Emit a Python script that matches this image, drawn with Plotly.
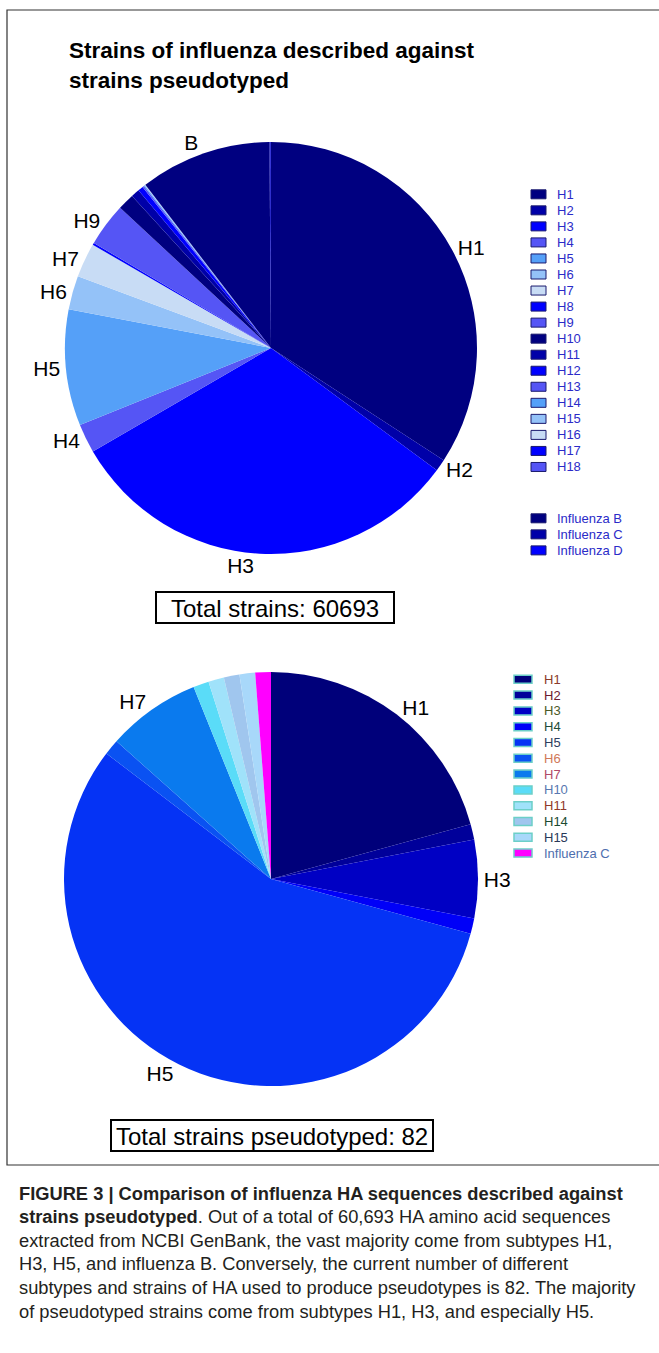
import plotly.graph_objects as go

W, H = 659, 1353

# ---------------- data: top pie (all described strains) ----------------
top_labels = ["H1", "H2", "H3", "H4", "H5", "H6", "H7", "H8", "H9", "H10", "H11", "H12",
              "H13", "H14", "H15", "H16", "H17", "H18", "Influenza B", "Influenza C", "Influenza D"]
top_values = [20740, 570, 19130, 1380, 5530, 1600, 1640, 100, 2060, 790, 400, 250,
              80, 40, 20, 20, 3, 5, 6260, 60, 15]
top_slice_text = ["H1", "H2", "H3", "H4", "H5", "H6", "H7", "", "H9", "", "", "",
                  "", "", "", "", "", "", "B", "", ""]
top_colors = ["#000080", "#0000A8", "#0000FF", "#5555F5", "#55A0F8", "#94C2F8", "#C8DCF5",
              "#0000FF", "#5555F5", "#000080", "#0000A8", "#0000FF", "#5555F5", "#55A0F8",
              "#94C2F8", "#C8DCF5", "#0000FF", "#5555F5", "#000080", "#0000A8", "#0000FF"]
top_total_text = "Total strains: 60693"

# ---------------- data: bottom pie (pseudotyped strains) ----------------
bot_labels = ["H1", "H2", "H3", "H4", "H5", "H6", "H7", "H10", "H11", "H14", "H15", "Influenza C"]
bot_values = [17, 1, 5, 1, 46, 1, 6, 1, 1, 1, 1, 1]
bot_slice_text = ["H1", "", "H3", "", "H5", "", "H7", "", "", "", "", ""]
bot_colors = ["#00007A", "#00009A", "#0000C4", "#0000F8", "#0533F5", "#0A52F2", "#0A7AEE",
              "#5ADCF8", "#A0E2FA", "#A0C6EE", "#A8D8FA", "#FF00FF"]
bot_legend_text_colors = ["#8B3A2A", "#6B1A30", "#4B5A28", "#1E4B3A", "#2E3E5E", "#D07858",
                          "#B04868", "#5878B0", "#903828", "#1C4A32", "#283858", "#4E6EAE"]
bot_total_text = "Total strains pseudotyped: 82"

title_lines = ["Strains of influenza described against", "strains pseudotyped"]
caption_lines = [
    "<b>FIGURE 3 | Comparison of influenza HA sequences described against</b>",
    "<b>strains pseudotyped</b>. Out of a total of 60,693 HA amino acid sequences",
    "extracted from NCBI GenBank, the vast majority come from subtypes H1,",
    "H3, H5, and influenza B. Conversely, the current number of different",
    "subtypes and strains of HA used to produce pseudotypes is 82. The majority",
    "of pseudotyped strains come from subtypes H1, H3, and especially H5.",
]


def px(x):
    return x / W


def py(y):
    return 1 - y / H


LABEL_FONT = dict(family="Liberation Sans, Arial", size=21, color="black")

fig = go.Figure()

fig.add_trace(go.Pie(
    labels=top_labels, values=top_values, text=top_slice_text,
    textinfo="text", textposition="outside", outsidetextfont=LABEL_FONT,
    marker=dict(colors=top_colors, line=dict(width=0)),
    sort=False, direction="clockwise", rotation=0, showlegend=False,
    hoverinfo="label+value",
    domain=dict(x=[px(65), px(477)], y=[py(554), py(142)]),
))

fig.add_trace(go.Pie(
    labels=bot_labels, values=bot_values, text=bot_slice_text,
    textinfo="text", textposition="outside", outsidetextfont=LABEL_FONT,
    marker=dict(colors=bot_colors, line=dict(width=0)),
    sort=False, direction="clockwise", rotation=0, showlegend=False,
    hoverinfo="label+value",
    domain=dict(x=[px(64), px(478)], y=[py(1086), py(672)]),
))

shapes = []
annotations = []

# outer frame
shapes.append(dict(type="rect", xref="paper", yref="paper",
                   x0=px(7), x1=px(662), y0=py(1165), y1=py(10),
                   line=dict(color="#333333", width=1.2), fillcolor="rgba(0,0,0,0)"))

# title
for i, t in enumerate(title_lines):
    annotations.append(dict(text="<b>%s</b>" % t, x=px(67), y=py(50 + 31 * i), xref="paper", yref="paper",
                            xanchor="left", yanchor="middle", showarrow=False,
                            font=dict(family="Liberation Sans, Arial", size=22.5, color="black")))

# top legend
top_rows = list(range(18)) + [20.2, 21.2, 22.2]
for i, (lab, col) in enumerate(zip(top_labels, top_colors)):
    yc = 194.3 + top_rows[i] * 16.04
    shapes.append(dict(type="rect", xref="paper", yref="paper",
                       x0=px(531), x1=px(546), y0=py(yc + 4.5), y1=py(yc - 4.5),
                       fillcolor=col, line=dict(color="#1A1A6E", width=1)))
    annotations.append(dict(text=lab, x=px(555), y=py(yc), xref="paper", yref="paper",
                            xanchor="left", yanchor="middle", showarrow=False,
                            font=dict(family="Liberation Sans, Arial", size=13, color="#2B2BC8")))

# bottom legend
for i, (lab, col, tc) in enumerate(zip(bot_labels, bot_colors, bot_legend_text_colors)):
    yc = 679.3 + i * 15.8
    shapes.append(dict(type="rect", xref="paper", yref="paper",
                       x0=px(514), x1=px(532), y0=py(yc + 4), y1=py(yc - 4),
                       fillcolor=col, line=dict(color="#6CCFC8", width=1.5)))
    annotations.append(dict(text=lab, x=px(542), y=py(yc), xref="paper", yref="paper",
                            xanchor="left", yanchor="middle", showarrow=False,
                            font=dict(family="Liberation Sans, Arial", size=13, color=tc)))

# totals boxes
for txt, (bx0, bx1, by0, by1) in [(top_total_text, (156, 394, 592, 623)),
                                  (bot_total_text, (111, 433, 1120, 1151))]:
    shapes.append(dict(type="rect", xref="paper", yref="paper",
                       x0=px(bx0), x1=px(bx1), y0=py(by1), y1=py(by0),
                       line=dict(color="black", width=2), fillcolor="white"))
    annotations.append(dict(text=txt, x=px((bx0 + bx1) / 2), y=py((by0 + by1) / 2 + 0.5),
                            xref="paper", yref="paper",
                            xanchor="center", yanchor="middle", showarrow=False,
                            font=dict(family="Liberation Sans, Arial", size=24, color="black")))

# caption
for i, t in enumerate(caption_lines):
    annotations.append(dict(text=t, x=px(17), y=py(1193 + 23.6 * i), xref="paper", yref="paper",
                            xanchor="left", yanchor="middle", showarrow=False, align="left",
                            font=dict(family="Liberation Sans, Arial", size=18.3, color="#231F20")))

fig.update_layout(
    width=W, height=H, margin=dict(l=0, r=0, t=0, b=0),
    paper_bgcolor="white", plot_bgcolor="white",
    shapes=shapes, annotations=annotations, showlegend=False,
)

fig.write_html("out.html", config={"displayModeBar": False},
               post_script="document.body.style.margin='0';document.body.style.overflow='hidden';")
